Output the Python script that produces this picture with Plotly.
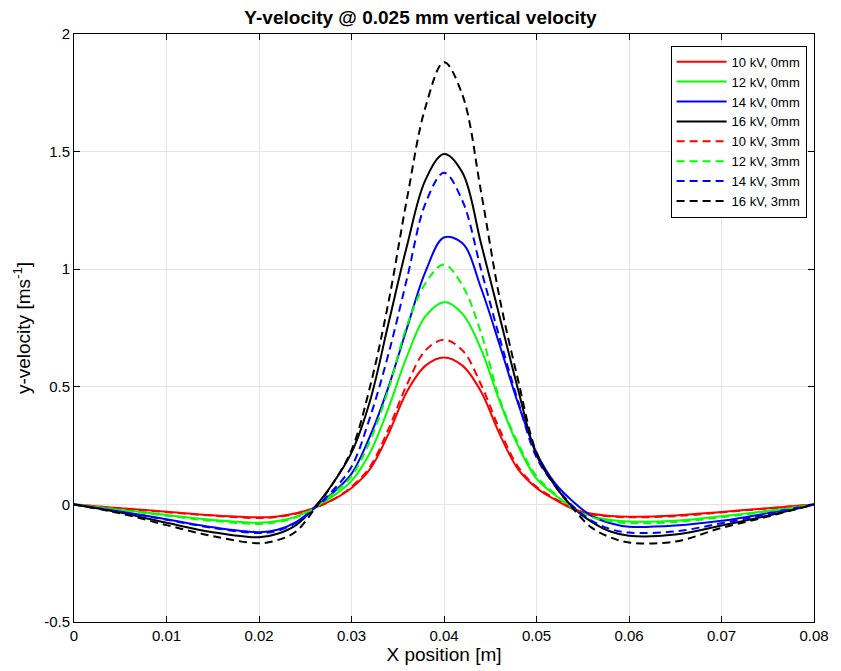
import plotly.graph_objects as go

X = [0, 0.005, 0.01, 0.015, 0.02, 0.022, 0.024, 0.026, 0.028, 0.03, 0.032, 0.034,
     0.036, 0.038, 0.04, 0.042, 0.044, 0.046, 0.048, 0.05, 0.052, 0.054, 0.056,
     0.058, 0.06, 0.065, 0.07, 0.075, 0.08]

R0 = [0, -0.016, -0.031, -0.046, -0.055, -0.051, -0.038, -0.015, 0.02, 0.07, 0.15, 0.30,
      0.48, 0.59, 0.625, 0.59, 0.48, 0.30, 0.15, 0.07, 0.02, -0.02, -0.040,
      -0.049, -0.052, -0.047, -0.032, -0.016, 0]
G0 = [0, -0.022, -0.045, -0.066, -0.078, -0.071, -0.052, -0.015, 0.035, 0.10, 0.22, 0.41,
      0.63, 0.80, 0.86, 0.81, 0.66, 0.44, 0.25, 0.11, 0.04, -0.015, -0.05,
      -0.066, -0.073, -0.07, -0.05, -0.027, 0]
B0 = [0, -0.030, -0.063, -0.097, -0.118, -0.108, -0.075, -0.015, 0.05, 0.13, 0.29, 0.50,
      0.75, 0.99, 1.135, 1.11, 0.92, 0.68, 0.43, 0.22, 0.09, 0.01, -0.05,
      -0.08, -0.095, -0.09, -0.07, -0.037, 0]
K0 = [0, -0.035, -0.078, -0.118, -0.140, -0.125, -0.088, -0.012, 0.09, 0.22, 0.44, 0.77,
      1.10, 1.38, 1.49, 1.41, 1.11, 0.80, 0.49, 0.21, 0.08, -0.015, -0.075,
      -0.115, -0.133, -0.128, -0.09, -0.048, 0]
R3 = [0, -0.017, -0.033, -0.048, -0.058, -0.053, -0.040, -0.015, 0.02, 0.075, 0.16, 0.32,
      0.51, 0.655, 0.70, 0.655, 0.51, 0.32, 0.16, 0.075, 0.025, -0.02, -0.042,
      -0.051, -0.055, -0.05, -0.034, -0.017, 0]
G3 = [0, -0.024, -0.048, -0.070, -0.083, -0.075, -0.055, -0.015, 0.045, 0.12, 0.27, 0.49,
      0.76, 0.94, 1.02, 0.93, 0.73, 0.45, 0.26, 0.12, 0.045, -0.02, -0.055,
      -0.072, -0.08, -0.075, -0.055, -0.03, 0]
B3 = [0, -0.031, -0.065, -0.100, -0.122, -0.112, -0.078, -0.015, 0.06, 0.16, 0.37, 0.64,
      0.96, 1.28, 1.41, 1.29, 1.00, 0.71, 0.44, 0.20, 0.08, -0.01, -0.07,
      -0.105, -0.12, -0.115, -0.08, -0.042, 0]
K3 = [0, -0.038, -0.088, -0.135, -0.165, -0.152, -0.115, -0.020, 0.09, 0.23, 0.50, 0.86,
      1.30, 1.69, 1.88, 1.74, 1.33, 0.88, 0.53, 0.22, 0.08, -0.02, -0.10,
      -0.14, -0.162, -0.158, -0.10, -0.052, 0]

NAMES = ["10 kV, 0mm", "12 kV, 0mm", "14 kV, 0mm", "16 kV, 0mm",
         "10 kV, 3mm", "12 kV, 3mm", "14 kV, 3mm", "16 kV, 3mm"]
SERIES = [R0, G0, B0, K0, R3, G3, B3, K3]
COLORS = ["#ff0000", "#00ff00", "#0000ff", "#000000"] * 2
DASHES = ["solid"] * 4 + ["8px,5px"] * 4

XTICKS = [0, 0.01, 0.02, 0.03, 0.04, 0.05, 0.06, 0.07, 0.08]
XTICKTEXT = ["0", "0.01", "0.02", "0.03", "0.04", "0.05", "0.06", "0.07", "0.08"]
YTICKS = [-0.5, 0, 0.5, 1, 1.5, 2]
YTICKTEXT = ["-0.5", "0", "0.5", "1", "1.5", "2"]

fig = go.Figure()
for name, ys, c, d in zip(NAMES, SERIES, COLORS, DASHES):
    fig.add_trace(go.Scatter(x=X, y=ys, mode="lines", name=name,
                             line=dict(color=c, width=2, dash=d, shape="spline", smoothing=1.0)))

font = "Liberation Sans, Arial, sans-serif"
fig.update_layout(
    width=841, height=671,
    margin=dict(l=74, r=19, t=34, b=49),
    plot_bgcolor="white", paper_bgcolor="white",
    font=dict(family=font, size=15, color="black"),
    title=dict(text="<b>Y-velocity @ 0.025 mm vertical velocity</b>", x=0.5, xanchor="center",
               y=1 - 17 / 671, yanchor="middle", font=dict(size=19)),
    legend=dict(x=0.99, y=0.98, xanchor="right", yanchor="top", bgcolor="white",
                bordercolor="black", borderwidth=1, font=dict(size=13), itemwidth=50,
                tracegroupgap=0),
)
fig.update_xaxes(range=[0, 0.08], tickvals=XTICKS, ticktext=XTICKTEXT,
                 showgrid=True, gridcolor="#e3e3e3", gridwidth=1,
                 showline=True, linecolor="black", linewidth=1, mirror="ticks",
                 ticks="inside", ticklen=6, tickcolor="black", zeroline=False,
                 tickfont=dict(size=15),
                 title=dict(text="X position [m]", standoff=2, font=dict(size=19)))
fig.update_yaxes(range=[-0.5, 2], tickvals=YTICKS, ticktext=YTICKTEXT,
                 showgrid=True, gridcolor="#e3e3e3", gridwidth=1,
                 showline=True, linecolor="black", linewidth=1, mirror="ticks",
                 ticks="inside", ticklen=6, tickcolor="black", zeroline=False,
                 tickfont=dict(size=15),
                 title=dict(text="y-velocity [ms<sup>-1</sup>]", standoff=8, font=dict(size=19)))

fig.write_html("out.html")
